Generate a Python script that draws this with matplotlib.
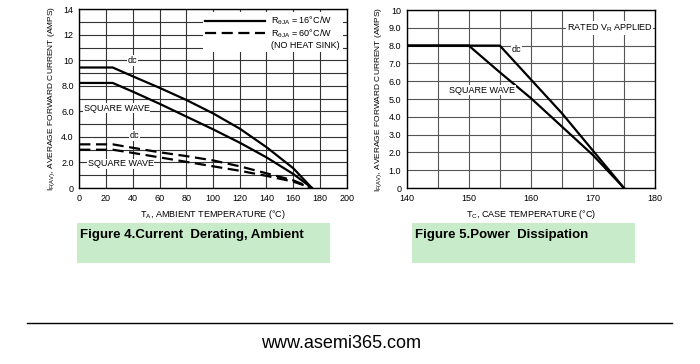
import matplotlib.pyplot as plt
from matplotlib.lines import Line2D
from matplotlib.patches import Rectangle
from matplotlib import font_manager

W, H = 700, 364

narrow = 'Liberation Sans Narrow'
names = {f.name for f in font_manager.fontManager.ttflist}
if narrow not in names:
    narrow = 'Liberation Sans'

plt.rcParams['font.family'] = [narrow, 'DejaVu Sans']
plt.rcParams['mathtext.fontset'] = 'custom'
plt.rcParams['mathtext.rm'] = narrow
plt.rcParams['mathtext.default'] = 'regular'

# Figure 4 - current derating, ambient
temp_a = [0, 25, 40, 60, 80, 100, 120, 140, 160, 174]
dc_16 = [9.44, 9.44, 8.75, 7.85, 6.9, 5.85, 4.65, 3.2, 1.55, 0]
sq_16 = [8.23, 8.23, 7.55, 6.6, 5.6, 4.6, 3.55, 2.4, 1.1, 0]
dc_60 = [3.42, 3.42, 3.15, 2.8, 2.5, 2.16, 1.7, 1.15, 0.6, 0]
sq_60 = [3.0, 3.0, 2.75, 2.4, 2.05, 1.7, 1.35, 0.95, 0.5, 0]
left_yticks = [0, 2, 4, 6, 8, 10, 12, 14]
left_ylabels = ['0', '2.0', '4.0', '6.0', '8.0', '10', '12', '14']
left_xticks = list(range(0, 201, 20))

# Figure 5 - case temperature
temp_c_dc = [140, 155, 160, 165, 170, 175]
dc_case = [8.0, 8.0, 6.1, 4.2, 2.1, 0]
temp_c_sq = [140, 150, 155, 160, 165, 170, 175]
sq_case = [8.0, 8.0, 6.5, 5.05, 3.45, 1.85, 0]
right_yticks = list(range(0, 11))
right_ylabels = ['0'] + [f'{v}.0' for v in range(1, 10)] + ['10']
right_xticks = [140, 150, 160, 170, 180]

ylab = r'I$_{F(AV)}$, AVERAGE FORWARD CURRENT (AMPS)'
fs = 6.5
white = dict(fc='white', ec='none', pad=0.5)


def px_axes(fig, x0, y0, x1, y1):
    return fig.add_axes([x0 / W, 1 - y1 / H, (x1 - x0) / W, (y1 - y0) / H])


def style(ax, gridcolor):
    for s in ax.spines.values():
        s.set_linewidth(1.0)
    ax.tick_params(length=0, labelsize=fs, pad=4)
    ax.grid(True, which='both', color=gridcolor, lw=0.8)
    ax.set_axisbelow(True)


fig = plt.figure(figsize=(W / 100, H / 100), dpi=100)

# left chart
ax1 = px_axes(fig, 79.3, 9.3, 346.7, 188)
ax1.plot(temp_a, dc_16, color='black', lw=1.6, zorder=3)
ax1.plot(temp_a, sq_16, color='black', lw=1.6, zorder=3)
ax1.plot(temp_a, dc_60, color='black', lw=1.6, ls=(0, (5, 2.5)), zorder=3)
ax1.plot(temp_a, sq_60, color='black', lw=1.6, ls=(0, (5, 2.5)), zorder=3)
ax1.set_xlim(0, 200)
ax1.set_ylim(0, 14)
ax1.set_xticks(left_xticks)
ax1.set_yticks(left_yticks, left_ylabels)
ax1.set_yticks(range(0, 15), minor=True)
ax1.tick_params(which='minor', length=0)
style(ax1, '#333333')
ax1.set_xlabel(r'T$_A$, AMBIENT TEMPERATURE (°C)', fontsize=fs, labelpad=4)
ax1.set_ylabel(ylab, fontsize=6, labelpad=3)
ax1.text(40, 10, 'dc', fontsize=fs, ha='center', va='center', bbox=white, zorder=4)
ax1.text(28, 6.25, 'SQUARE WAVE', fontsize=fs, ha='center', va='center', bbox=white, zorder=4)
ax1.text(41, 4.1, 'dc', fontsize=fs, ha='center', va='center', bbox=white, zorder=4)
ax1.text(31, 1.9, 'SQUARE WAVE', fontsize=fs, ha='center', va='center', bbox=white, zorder=4)
handles = [Line2D([], [], color='black', lw=1.6),
           Line2D([], [], color='black', lw=1.6, ls=(0, (5, 2.5))),
           Line2D([], [], color='none')]
labels = [r'R$_{\theta JA}$ = 16°C/W', r'R$_{\theta JA}$ = 60°C/W', '(NO HEAT SINK)']
leg = ax1.legend(handles, labels, loc='upper right', fontsize=fs, frameon=True,
                 fancybox=False, edgecolor='none', facecolor='white', framealpha=1,
                 handlelength=6.6, handletextpad=0.7, labelspacing=0.05,
                 borderpad=0.3, borderaxespad=0, bbox_to_anchor=(0.985, 0.985))

# right chart
ax2 = px_axes(fig, 406.7, 10, 655, 188)
ax2.plot(temp_c_dc, dc_case, color='black', lw=1.6, zorder=3)
ax2.plot(temp_c_sq, sq_case, color='black', lw=1.6, zorder=3)
ax2.set_xlim(140, 180)
ax2.set_ylim(0, 10)
ax2.set_xticks(right_xticks)
ax2.set_xticks(range(140, 181, 5), minor=True)
ax2.set_yticks(right_yticks, right_ylabels)
ax2.tick_params(which='minor', length=0)
style(ax2, '#555555')
ax2.set_xlabel(r'T$_C$, CASE TEMPERATURE (°C)', fontsize=fs, labelpad=4)
ax2.set_ylabel(ylab, fontsize=6, labelpad=3)
ax2.text(172.7, 9.0, r'RATED V$_R$ APPLIED', fontsize=fs, ha='center', va='center', bbox=white, zorder=4)
ax2.text(157.7, 7.8, 'dc', fontsize=fs, ha='center', va='center', bbox=white, zorder=4)
ax2.text(152.1, 5.5, 'SQUARE WAVE', fontsize=fs, ha='center', va='center', bbox=white, zorder=4)

# caption boxes
green = '#c8ecca'
for x0, x1, cap in [(77, 330, 'Figure 4.Current  Derating, Ambient'),
                    (411.7, 635, 'Figure 5.Power  Dissipation')]:
    fig.patches.append(Rectangle((x0 / W, 1 - 262.7 / H), (x1 - x0) / W, 39.7 / H,
                                 transform=fig.transFigure, fc=green, ec='none'))
    fig.text((x0 + 3) / W, 1 - 235 / H, cap, fontsize=9.5, fontweight='bold',
             ha='left', va='center', family=['Liberation Sans', 'DejaVu Sans'])

fig.add_artist(Line2D([27 / W, 672 / W], [1 - 323 / H, 1 - 323 / H],
                      transform=fig.transFigure, color='black', lw=1))
fig.text(341 / W, 1 - 344 / H, 'www.asemi365.com', fontsize=13, ha='center', va='center',
         family=['Liberation Sans', 'DejaVu Sans'])

fig.savefig('out.png', dpi=100)
